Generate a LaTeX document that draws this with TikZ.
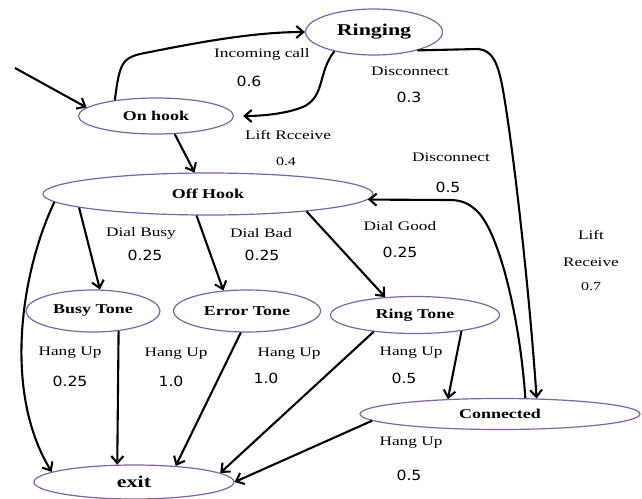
\documentclass[tikz,border=0pt]{standalone}
\usepackage{fontspec}
\setmainfont[FakeStretch=1.33]{Liberation Serif}
\newfontfamily\probfont[FakeStretch=1.12]{DejaVu Sans}
\usetikzlibrary{arrows,arrows.meta,shapes,positioning,calc}
\definecolor{statepurple}{RGB}{128,100,162}

\begin{document}
\begin{tikzpicture}[x = 1pt, y = 1pt,
  state/.style = {ellipse, draw = statepurple, line width = 1.2pt, inner sep = 0pt, font = \bfseries\fontsize{13.5}{15}\selectfont},
  bigstate/.style = {state, font = \bfseries\fontsize{16.5}{18}\selectfont},
  trans/.style = {-{Straight Barb[length=7pt,width=12pt]}, line width = 2.1pt},
  lbl/.style = {font = \fontsize{13}{15}\selectfont},
  prob/.style = {font = \probfont\fontsize{14}{16}\selectfont}]
  \useasboundingbox (0,0) rectangle (642,-498);
  % states
  \node[bigstate, minimum width = 137pt, minimum height = 46pt] (ringing) at (374,-32) {Ringing};
  \node[state, minimum width = 155pt, minimum height = 36pt] (onhook) at (156,-116) {On hook};
  \node[state, minimum width = 330pt, minimum height = 42pt] (offhook) at (208,-194) {Off Hook};
  \node[state, minimum width = 134pt, minimum height = 42pt] (busy) at (93,-311) {Busy Tone};
  \node[state, minimum width = 147pt, minimum height = 42pt] (error) at (247,-311) {Error Tone};
  \node[state, minimum width = 169pt, minimum height = 37pt] (ring) at (415,-315) {Ring Tone};
  \node[state, minimum width = 280pt, minimum height = 31pt] (connected) at (500,-414) {Connected};
  \node[bigstate, minimum width = 200pt, minimum height = 34pt] (exit) at (134,-482) {exit};
  \coordinate (start) at (15,-68);
  % transitions
  \draw[trans] (start) -- (onhook.173);
  \draw[trans] (onhook.159) .. controls (120,-60) and (122,-57) .. (150,-52) .. controls (200,-42) and (255,-32) .. (ringing.west);
  \draw[trans, shorten > = 9pt] (ringing.-154) .. controls (318,-72) and (325,-95) .. (305,-106) .. controls (290,-113) and (265,-116) .. (onhook.east);
  \draw[trans] (ringing.-23) -- (478,-49) .. controls (492,-50) and (498,-62) .. (503,-90) .. controls (515,-160) and (530,-300) .. (connected.23);
  \draw[trans] (connected.32) .. controls (520,-320) and (500,-235) .. (478,-212) .. controls (470,-204) and (462,-200) .. (450,-200) -- (offhook.-2);
  \draw[trans] (onhook.-44) -- (offhook.122);
  \draw[trans] (offhook.-174) -- (busy.72);
  \draw[trans] (offhook.-118) -- (error.139);
  \draw[trans] (offhook.-10) -- (ring.149);
  \draw[trans] (offhook.-177) .. controls (22,-270) and (2,-390) .. (exit.173);
  \draw[trans] (busy.-38) -- (exit.134);
  \draw[trans] (error.-106) -- (exit.21);
  \draw[trans] (ring.-158) -- (exit.6);
  \draw[trans] (ring.-19) -- (connected.164);
  \draw[trans] (connected.-177) -- (exit.east);
  % labels
  \node[lbl] (lincoming) at (262,-54) {Incoming call};
  \node[prob] (pincoming) at (249,-81) {0.6};
  \node[lbl] (ldisc) at (410,-71) {Disconnect};
  \node[prob] (pdisc) at (409,-97) {0.3};
  \node[lbl] (llift) at (288,-135) {Lift Rcceive};
  \node[lbl, font = \fontsize{12}{14}\selectfont] (plift) at (286,-162) {0.4};
  \node[lbl] (ldisctwo) at (451,-157) {Disconnect};
  \node[prob] (pdisctwo) at (448,-187) {0.5};
  \node[lbl] (lbusy) at (141,-233) {Dial Busy};
  \node[prob] (pbusy) at (145,-255) {0.25};
  \node[lbl] (lbad) at (261,-233) {Dial Bad};
  \node[prob] (pbad) at (262,-255) {0.25};
  \node[lbl] (lgood) at (400,-226) {Dial Good};
  \node[prob] (pgood) at (400,-252) {0.25};
  \node[lbl] (lliftrec) at (591,-235) {Lift};
  \node[lbl] (lreceive) at (591,-262) {Receive};
  \node[lbl, font = \fontsize{12}{14}\selectfont] (pliftrec) at (591,-287) {0.7};
  \node[lbl] (lhangbusy) at (70,-353) {Hang Up};
  \node[prob] (phangbusy) at (70,-381) {0.25};
  \node[lbl] (lhangerr) at (176,-354) {Hang Up};
  \node[prob] (phangerr) at (171,-381) {1.0};
  \node[lbl] (lhangerrtwo) at (289,-354) {Hang Up};
  \node[prob] (phangerrtwo) at (266,-378) {1.0};
  \node[lbl] (lhangring) at (411,-353) {Hang Up};
  \node[prob] (phangring) at (404,-378) {0.5};
  \node[lbl] (lhangconn) at (411,-443) {Hang Up};
  \node[prob] (phangconn) at (409,-475) {0.5};
\end{tikzpicture}
\end{document}
